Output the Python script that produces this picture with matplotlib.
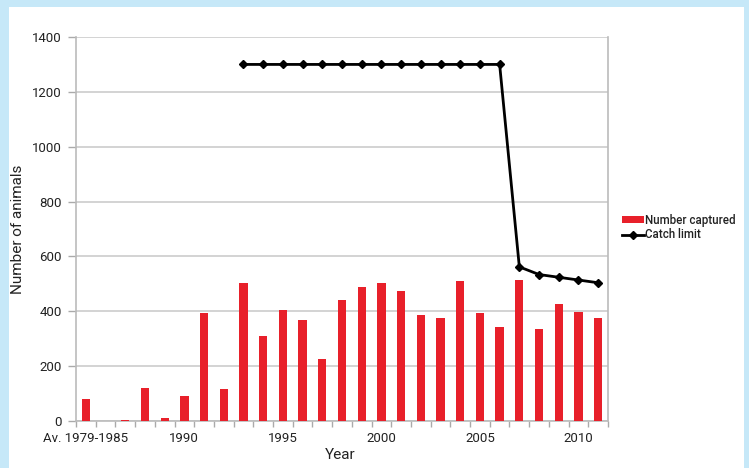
import matplotlib
matplotlib.use("Agg")
import matplotlib.pyplot as plt
import numpy as np
from matplotlib.patches import Rectangle

plt.rcParams['font.family'] = ['Roboto', 'DejaVu Sans']

# Category labels: the 1979-1985 average followed by each year 1986-2011
categories = ["Av. 1979-1985"] + [str(y) for y in range(1986, 2012)]
captured = [80, 0, 5, 122, 12, 91, 392, 118, 503, 310, 403, 370, 226, 442,
            487, 504, 475, 385, 377, 509, 392, 342, 515, 336, 428, 396, 375]
limit_years = list(range(1993, 2012))
catch_limit = [1300] * 14 + [562, 534, 524, 514, 504]
shown_labels = ["Av. 1979-1985", "1990", "1995", "2000", "2005", "2010"]

W, H = 749, 468
fig = plt.figure(figsize=(W / 100, H / 100), dpi=100)
fig.patch.set_facecolor("#c6e8f8")
# white card on the blue page
fig.add_artist(Rectangle((9 / W, 0), (744 - 9) / W, 1 - 7 / H,
                         transform=fig.transFigure, facecolor="white",
                         edgecolor="none", zorder=0))

ax = fig.add_axes([76 / W, 1 - 421 / H, (608 - 76) / W, (421 - 37) / H])
ax.set_facecolor("white")

x = np.arange(len(categories))
bars = ax.bar(x, captured, width=0.42, color="#e8202a", zorder=3,
              label="Number captured")

lx = [categories.index(str(y)) for y in limit_years]
line, = ax.plot(lx, catch_limit, color="black", lw=2, marker="D",
                markersize=4.5, zorder=4, label="Catch limit")

ax.set_xlim(-0.5, len(categories) - 0.5)
ax.set_ylim(0, 1400)
ax.set_yticks(np.arange(0, 1401, 200))
ax.yaxis.grid(True, color="#cccccc", lw=1.2, zorder=0)
ax.set_axisbelow(True)

# labelled categories (no tick marks) and boundary tick marks between bars
ax.set_xticks([categories.index(s) for s in shown_labels])
ax.set_xticklabels(shown_labels)
ax.set_xticks(np.arange(-0.5, len(categories), 1.0), minor=True)
ax.tick_params(axis="x", which="major", length=0, pad=8, labelsize=9.5,
               labelcolor="#222222")
ax.tick_params(axis="x", which="minor", length=4, color="#aaaaaa", width=1)
ax.tick_params(axis="y", length=6, color="#aaaaaa", width=1, labelsize=9.5,
               pad=4, labelcolor="#222222")

for s in ["left", "bottom", "right", "top"]:
    ax.spines[s].set_color("#bbbbbb")
    ax.spines[s].set_linewidth(1.2)
ax.spines["top"].set_visible(False)

ax.set_xlabel("Year", fontsize=11, color="#222222")
ax.xaxis.set_label_coords((340 - 76) / 532, -(448 - 421) / 384)
ax.set_ylabel("Number of animals", fontsize=11, color="#222222")
ax.yaxis.set_label_coords((25 - 76) / 532, 0.5)

leg = ax.legend(handles=[bars, line], loc="center left",
                bbox_to_anchor=(1.018, 0.504), frameon=False,
                prop={"size": 8.3, "weight": "medium"}, handlelength=1.9,
                handleheight=0.5, handletextpad=0.1, labelspacing=0.15,
                borderaxespad=0)
for t in leg.get_texts():
    t.set_color("#222222")

fig.savefig("out.png", dpi=100, facecolor=fig.get_facecolor())
